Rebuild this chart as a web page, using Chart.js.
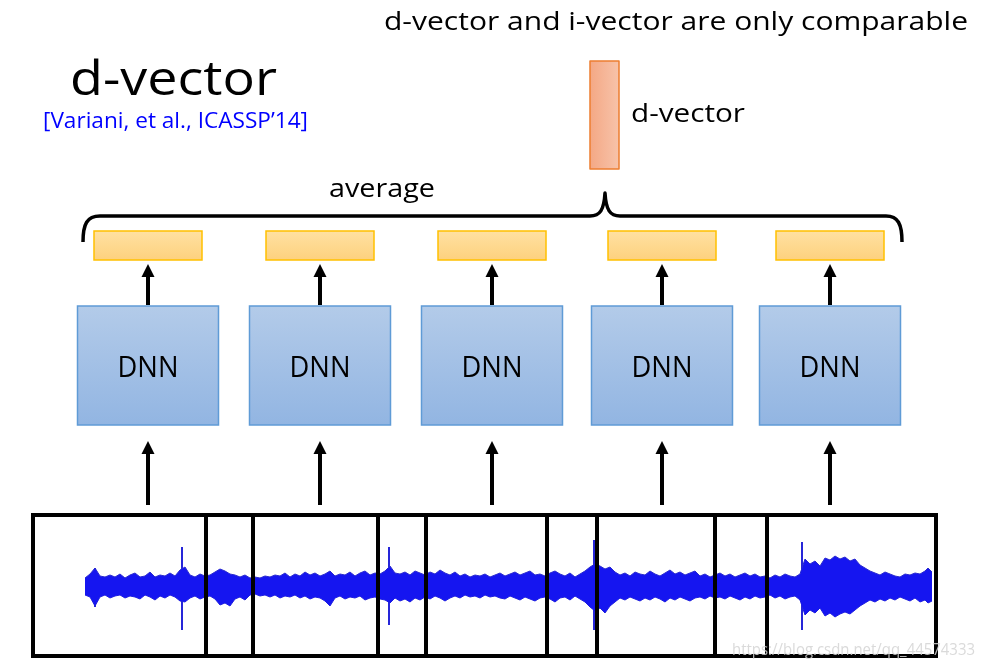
<!DOCTYPE html>
<html>
<head>
<meta charset="utf-8">
<script src="https://cdn.jsdelivr.net/npm/chart.js@4"></script>
<style>
html,body{margin:0;padding:0;background:#fff}
#c{display:block}
</style>
</head>
<body>
<canvas id="c" width="985" height="670"></canvas>
<script>
// diagram data (x/y in the chart's own 985 x 670 units)
const dnnX = [148, 320, 492, 662, 830];
const dnnLabels = ['DNN', 'DNN', 'DNN', 'DNN', 'DNN'];
const frameLeft = [33, 206, 378, 547, 715];
const frameRight = [253, 426, 597, 767, 936];

// waveform envelope, centre line at y=586
const waveX = [85,90,95,100,105,110,115,120,125,130,135,140,145,150,155,160,165,170,175,180,185,190,195,200,205,210,215,220,225,230,235,240,245,250,255,260,265,270,275,280,285,290,295,300,305,310,315,320,325,330,335,340,345,350,355,360,365,370,375,380,385,390,395,400,405,410,415,420,425,430,435,440,445,450,455,460,465,470,475,480,485,490,495,500,505,510,515,520,525,530,535,540,545,550,555,560,565,570,575,580,585,590,595,600,605,610,615,620,625,630,635,640,645,650,655,660,665,670,675,680,685,690,695,700,705,710,715,720,725,730,735,740,745,750,755,760,765,770,775,780,785,790,795,800,805,810,815,820,825,830,835,840,845,850,855,860,865,870,875,880,885,890,895,900,905,910,915,920,925,928,932];
const waveTop = [8,12,18,10,9,11,9,12,8,11,13,9,10,14,9,11,10,13,10,16,19,11,9,12,10,11,14,17,15,12,11,9,11,8,9,8,10,9,11,10,13,9,12,10,14,11,13,10,12,15,10,12,11,14,10,13,15,11,13,12,15,20,13,12,14,11,15,13,11,14,12,16,13,11,14,10,12,9,11,10,12,9,11,13,10,12,14,11,13,15,11,12,10,13,15,12,10,13,9,12,15,19,22,20,17,19,14,11,13,10,14,12,11,15,12,10,13,16,12,14,11,13,15,10,12,9,11,13,10,12,9,11,13,10,12,9,10,8,11,9,12,10,9,12,27,22,25,20,28,26,30,27,29,25,27,21,18,15,13,11,14,12,10,9,12,11,13,12,15,18,14];
const waveBot = [9,11,20,11,9,12,10,9,12,10,11,13,9,11,14,10,12,9,11,15,16,12,10,13,11,10,13,19,17,20,13,11,14,9,8,10,9,11,9,12,10,11,9,12,10,13,11,12,15,20,12,10,13,11,12,10,14,12,11,13,14,17,12,15,13,16,12,14,11,13,10,12,15,12,10,12,9,11,10,12,9,11,10,12,13,10,12,14,11,13,15,12,11,13,16,12,11,14,10,13,16,21,25,22,27,20,16,12,14,11,13,15,12,14,11,13,16,12,14,11,13,15,12,11,13,10,12,11,13,10,12,14,11,13,10,12,11,9,12,10,13,11,10,14,29,24,27,22,30,27,31,28,26,28,24,20,17,14,16,13,15,12,14,11,13,15,12,16,14,17,15];
const waveCentre = 586;
const spikeX = [95, 182, 389, 594, 802];
const spikeTop = [568, 547, 547, 540, 542];
const spikeBot = [607, 630, 625, 630, 630];

const titleText = 'd-vector';
const citeText = '[Variani, et al., ICASSP\u201914]';
const noteText = 'd-vector and i-vector are only comparable';
const vecLabel = 'd-vector';
const avgLabel = 'average';
const watermark = 'https://blog.csdn.net/qq_44574333';

const upper = waveX.map((x,i)=>({x, y: waveCentre - waveTop[i]}));
const lower = waveX.map((x,i)=>({x, y: waveCentre + waveBot[i]}));
const spikes = [];
spikeX.forEach((x,i)=>{ spikes.push({x, y: spikeTop[i]}, {x, y: spikeBot[i]}, {x, y: null}); });

const FONT = '"Open Sans", Lato, sans-serif';

const diagram = {
  id: 'diagram',
  afterDatasetsDraw(chart){
    const {ctx, scales:{x, y}} = chart;
    const px = v => x.getPixelForValue(v), py = v => y.getPixelForValue(v);
    ctx.save();

    // text squeezed/stretched to the width it has in the slide
    function label(str, left, base, size, width, color, center){
      ctx.font = size + 'px ' + FONT;
      ctx.fillStyle = color || '#000';
      ctx.textAlign = 'left'; ctx.textBaseline = 'alphabetic';
      const w = ctx.measureText(str).width;
      const s = (px(left + width) - px(left)) / w;
      ctx.save();
      ctx.translate(center ? px(left) : px(left), py(base));
      ctx.scale(s, 1);
      ctx.fillText(str, 0, 0);
      ctx.restore();
    }

    // sliding windows over the waveform
    ctx.strokeStyle = '#000'; ctx.lineWidth = 4;
    frameLeft.forEach((l,i)=>{
      ctx.strokeRect(px(l), py(515), px(frameRight[i]) - px(l), py(656) - py(515));
    });

    function arrow(cx, tail, tip){
      ctx.fillStyle = '#000'; ctx.strokeStyle = '#000'; ctx.lineWidth = 4;
      ctx.beginPath(); ctx.moveTo(px(cx), py(tail)); ctx.lineTo(px(cx), py(tip + 10)); ctx.stroke();
      ctx.beginPath();
      ctx.moveTo(px(cx), py(tip));
      ctx.lineTo(px(cx) - 6.5, py(tip + 13));
      ctx.lineTo(px(cx) + 6.5, py(tip + 13));
      ctx.closePath(); ctx.fill();
    }

    dnnX.forEach((cx,i)=>{
      // DNN box
      const x0 = px(cx - 70.5), x1 = px(cx + 70.5), y0 = py(306), y1 = py(425);
      const g = ctx.createLinearGradient(0, y0, 0, y1);
      g.addColorStop(0, '#b3cbe9'); g.addColorStop(1, '#92b5e2');
      ctx.fillStyle = g; ctx.fillRect(x0, y0, x1 - x0, y1 - y0);
      ctx.strokeStyle = '#5f9bd6'; ctx.lineWidth = 1.5; ctx.strokeRect(x0, y0, x1 - x0, y1 - y0);
      label(dnnLabels[i], cx - 30.5, 377, 29, 61);

      // frame-level output
      const r0 = px(cx - 54), r1 = px(cx + 54), t0 = py(231), t1 = py(260);
      const g2 = ctx.createLinearGradient(0, t0, 0, t1);
      g2.addColorStop(0, '#ffe1a2'); g2.addColorStop(1, '#fdd17e');
      ctx.fillStyle = g2; ctx.fillRect(r0, t0, r1 - r0, t1 - t0);
      ctx.strokeStyle = '#ffc000'; ctx.lineWidth = 1.5; ctx.strokeRect(r0, t0, r1 - r0, t1 - t0);

      arrow(cx, 305, 264);
      arrow(cx, 505, 441);
    });

    // brace
    ctx.strokeStyle = '#000'; ctx.lineWidth = 3.5; ctx.lineJoin = 'round';
    ctx.beginPath();
    ctx.moveTo(px(83), py(242));
    ctx.bezierCurveTo(px(83), py(224), px(87), py(216), px(100), py(216));
    ctx.lineTo(px(590), py(216));
    ctx.bezierCurveTo(px(600), py(216), px(604), py(210), px(605), py(193));
    ctx.bezierCurveTo(px(606), py(210), px(610), py(216), px(620), py(216));
    ctx.lineTo(px(886), py(216));
    ctx.bezierCurveTo(px(898), py(216), px(902), py(224), px(902), py(242));
    ctx.stroke();

    // d-vector bar
    const bx0 = px(590), bx1 = px(619), by0 = py(61), by1 = py(169);
    const g3 = ctx.createLinearGradient(bx0, 0, bx1, 0);
    g3.addColorStop(0, '#f4a885'); g3.addColorStop(1, '#f7c3aa');
    ctx.fillStyle = g3; ctx.fillRect(bx0, by0, bx1 - bx0, by1 - by0);
    ctx.strokeStyle = '#ed7d31'; ctx.lineWidth = 1.5; ctx.strokeRect(bx0, by0, bx1 - bx0, by1 - by0);

    // texts
    label(titleText, 70, 95, 47, 207);
    label(noteText, 384, 30, 26, 584);
    label(vecLabel, 631, 122, 26, 114);
    label(avgLabel, 329, 197, 26, 106);
    label(citeText, 43, 128, 21, 265, '#0000ff');

    // watermark
    label(watermark, 732, 655, 17, 243, 'rgba(212,212,212,0.85)');

    ctx.restore();
  }
};

new Chart(document.getElementById('c'), {
  type: 'line',
  data: {
    datasets: [
      {data: upper, borderColor: '#2a2ad0', borderWidth: 1, backgroundColor: '#1515f0', fill: '+1', pointRadius: 0, tension: 0},
      {data: lower, borderColor: '#2a2ad0', borderWidth: 1, backgroundColor: '#1515f0', fill: false, pointRadius: 0, tension: 0},
      {data: spikes, borderColor: '#2626d8', borderWidth: 2, fill: false, pointRadius: 0, spanGaps: false}
    ]
  },
  options: {
    responsive: false,
    animation: false,
    devicePixelRatio: 1,
    layout: {padding: 0},
    plugins: {legend: {display: false}, tooltip: {enabled: false}},
    events: [],
    scales: {
      x: {type: 'linear', min: 0, max: 985, display: false},
      y: {type: 'linear', min: 0, max: 670, reverse: true, display: false}
    }
  },
  plugins: [diagram]
});
</script>
</body>
</html>
